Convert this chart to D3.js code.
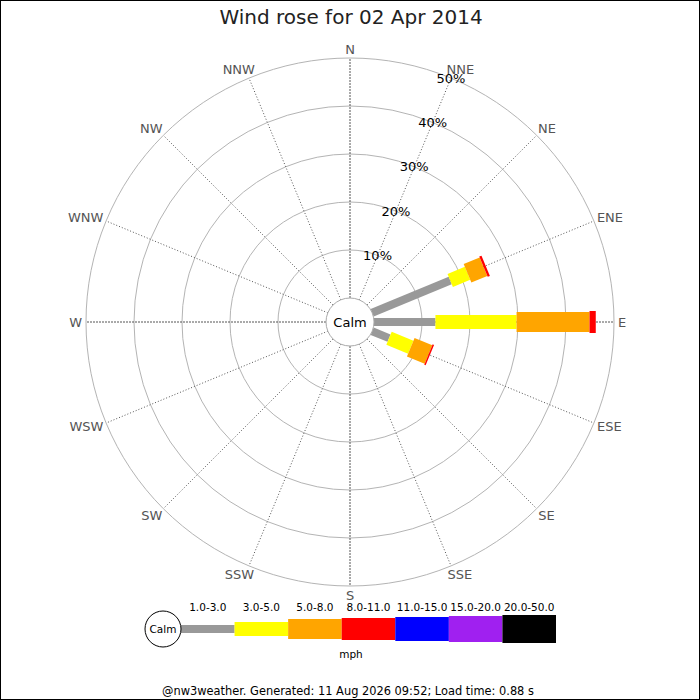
<!DOCTYPE html>
<html>
<head>
<meta charset="utf-8">
<script src="https://cdn.jsdelivr.net/npm/d3@7"></script>
<style>
  body { margin: 0; background: #fff; }
  svg text { font-family: "DejaVu Sans", sans-serif; }
</style>
</head>
<body>
<div id="chart"></div>
<script>
// Directions and speed bands
var directions = ['N', 'NNE', 'NE', 'ENE', 'E', 'ESE', 'SE', 'SSE',
    'S', 'SSW', 'SW', 'WSW', 'W', 'WNW', 'NW', 'NNW'];
var bands = ['1.0-3.0', '3.0-5.0', '5.0-8.0', '8.0-11.0', '11.0-15.0', '15.0-20.0', '20.0-50.0'];
var band_colors = ['#999999', '#ffff00', '#ffa500', '#ff0000', '#0000ff', '#a020f0', '#000000'];

// percent of time per direction, one array per speed band
var s_1_3   = [0, 0, 0, 17.6, 12.8, 3.8, 0, 0, 0, 0, 0, 0, 0, 0, 0, 0];
var s_3_5   = [0, 0, 0, 3.9, 16.9, 4.9, 0, 0, 0, 0, 0, 0, 0, 0, 0, 0];
var s_5_8   = [0, 0, 0, 3.6, 15.2, 4.0, 0, 0, 0, 0, 0, 0, 0, 0, 0, 0];
var s_8_11  = [0, 0, 0, 0.5, 1.3, 0.3, 0, 0, 0, 0, 0, 0, 0, 0, 0, 0];
var s_11_15 = [0, 0, 0, 0, 0, 0, 0, 0, 0, 0, 0, 0, 0, 0, 0, 0];
var s_15_20 = [0, 0, 0, 0, 0, 0, 0, 0, 0, 0, 0, 0, 0, 0, 0, 0];
var s_20_50 = [0, 0, 0, 0, 0, 0, 0, 0, 0, 0, 0, 0, 0, 0, 0, 0];
var series = [s_1_3, s_3_5, s_5_8, s_8_11, s_11_15, s_15_20, s_20_50];

var ring_ticks = [10, 20, 30, 40, 50];

var chart_width = 700;
var chart_height = 700;
var cx = 350, cy = 322;
var calm_radius = 24;
var bar_widths = [8, 14, 20, 22, 24, 26, 28];

var svg = d3.select('#chart')
    .append('svg')
    .attr('width', chart_width)
    .attr('height', chart_height);

// frame
svg.append('rect')
    .attr('x', 0.5).attr('y', 0.5)
    .attr('width', chart_width - 1).attr('height', chart_height - 1)
    .attr('fill', '#fff').attr('stroke', '#000');

var r_scale = d3.scaleLinear()
    .domain([0, 50])
    .range([calm_radius, 264]);

var a_scale = d3.scaleLinear()
    .domain([0, directions.length])
    .range([0, 360]);

function rad(i) { return a_scale(i) * Math.PI / 180; }

var rose = svg.append('g')
    .attr('transform', 'translate(' + cx + ',' + cy + ')');

// rings
rose.selectAll('circle.ring')
    .data(ring_ticks)
    .enter()
    .append('circle')
    .attr('class', 'ring')
    .attr('r', function (d) { return r_scale(d); })
    .attr('fill', 'none')
    .attr('stroke', '#b4b4b4')
    .attr('stroke-width', 1);

// spokes
rose.selectAll('line.spoke')
    .data(directions)
    .enter()
    .append('line')
    .attr('class', 'spoke')
    .attr('x1', function (d, i) { return r_scale(0) * Math.sin(rad(i)); })
    .attr('y1', function (d, i) { return -r_scale(0) * Math.cos(rad(i)); })
    .attr('x2', function (d, i) { return r_scale(50) * Math.sin(rad(i)); })
    .attr('y2', function (d, i) { return -r_scale(50) * Math.cos(rad(i)); })
    .attr('stroke', '#555')
    .attr('stroke-width', 1)
    .attr('stroke-dasharray', function (d, i) { return i % 4 == 0 ? '2,1' : '1,2'; });

// direction labels, pushed outward from the spoke end
rose.selectAll('text.dir')
    .data(directions)
    .enter()
    .append('text')
    .attr('class', 'dir')
    .attr('text-anchor', 'middle')
    .attr('dominant-baseline', 'central')
    .attr('font-size', 13)
    .attr('fill', '#555')
    .text(function (d) { return d; })
    .each(function (d, i) {
        var w = this.getComputedTextLength();
        var s = Math.sin(rad(i)), c = Math.cos(rad(i));
        if (Math.abs(s) < 1e-6) s = 0;
        if (Math.abs(c) < 1e-6) c = 0;
        var px = r_scale(50) * s, py = -r_scale(50) * c;
        var sign = s > 0 ? 1 : (s < 0 ? -1 : 0);
        d3.select(this)
            .attr('x', px + 4 * sign + (w / 2) * s)
            .attr('y', py - 9 * c);
    });

// bars, stacked outward
directions.forEach(function (dir, i) {
    var g = rose.append('g')
        .attr('transform', 'rotate(' + (a_scale(i) - 90) + ')');
    var acc = 0;
    series.forEach(function (s, b) {
        var v = s[i];
        if (v > 0) {
            g.append('rect')
                .attr('x', r_scale(acc))
                .attr('y', -bar_widths[b] / 2)
                .attr('width', r_scale(acc + v) - r_scale(acc))
                .attr('height', bar_widths[b])
                .attr('fill', band_colors[b]);
        }
        acc += v;
    });
});

// percentage labels along NNE
rose.selectAll('text.pct')
    .data(ring_ticks)
    .enter()
    .append('text')
    .attr('class', 'pct')
    .attr('x', function (d) { return r_scale(d) * Math.sin(rad(1)); })
    .attr('y', function (d) { return -r_scale(d) * Math.cos(rad(1)); })
    .attr('text-anchor', 'middle')
    .attr('dominant-baseline', 'central')
    .attr('font-size', 13)
    .attr('fill', '#000')
    .text(function (d) { return d + '%'; });

// calm circle
rose.append('circle')
    .attr('r', calm_radius)
    .attr('fill', '#fff')
    .attr('stroke', '#aaa');
rose.append('text')
    .attr('text-anchor', 'middle')
    .attr('dominant-baseline', 'central')
    .attr('font-size', 13)
    .attr('fill', '#000')
    .text('Calm');

// title
svg.append('text')
    .attr('x', 351).attr('y', 24)
    .attr('text-anchor', 'middle')
    .attr('font-size', 20)
    .attr('fill', '#222')
    .text('Wind rose for 02 Apr 2014');

// legend
var legend_y = 629;
var x_legend = d3.scaleBand()
    .domain(bands)
    .range([181, 556]);

var legend = svg.append('g');
legend.selectAll('rect')
    .data(bands)
    .enter()
    .append('rect')
    .attr('x', function (d) { return x_legend(d); })
    .attr('y', function (d, i) { return legend_y - bar_widths[i] / 2; })
    .attr('width', x_legend.bandwidth())
    .attr('height', function (d, i) { return bar_widths[i]; })
    .attr('fill', function (d, i) { return band_colors[i]; });

legend.selectAll('text.band')
    .data(bands)
    .enter()
    .append('text')
    .attr('class', 'band')
    .attr('x', function (d) { return x_legend(d) + x_legend.bandwidth() / 2; })
    .attr('y', 611)
    .attr('text-anchor', 'middle')
    .attr('font-size', 10.5)
    .attr('fill', '#000')
    .text(function (d) { return d; });

legend.append('circle')
    .attr('cx', 163).attr('cy', legend_y)
    .attr('r', 18)
    .attr('fill', '#fff')
    .attr('stroke', '#000');
legend.append('text')
    .attr('x', 163).attr('y', legend_y)
    .attr('text-anchor', 'middle')
    .attr('dominant-baseline', 'central')
    .attr('font-size', 10.5)
    .text('Calm');

legend.append('text')
    .attr('x', 351).attr('y', 658)
    .attr('text-anchor', 'middle')
    .attr('font-size', 10.5)
    .text('mph');

// footer
svg.append('text')
    .attr('x', 348).attr('y', 695)
    .attr('text-anchor', 'middle')
    .attr('font-size', 11.4)
    .attr('fill', '#000')
    .text('@nw3weather. Generated: 11 Aug 2026 09:52; Load time: 0.88 s');
</script>
</body>
</html>
